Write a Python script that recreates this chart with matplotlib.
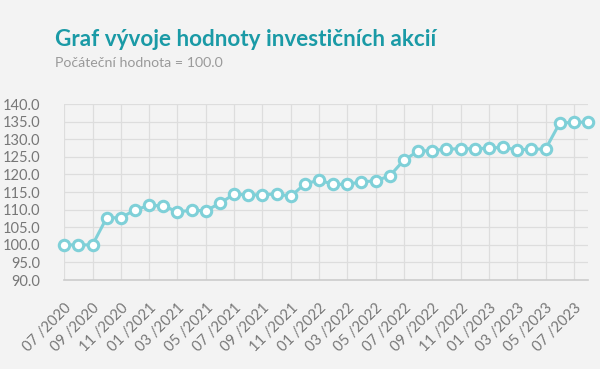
import matplotlib.pyplot as plt
import numpy as np

months = ['07 /2020', '08 /2020', '09 /2020', '10 /2020', '11 /2020', '12 /2020',
          '01 /2021', '02 /2021', '03 /2021', '04 /2021', '05 /2021', '06 /2021',
          '07 /2021', '08 /2021', '09 /2021', '10 /2021', '11 /2021', '12 /2021',
          '01 /2022', '02 /2022', '03 /2022', '04 /2022', '05 /2022', '06 /2022',
          '07 /2022', '08 /2022', '09 /2022', '10 /2022', '11 /2022', '12 /2022',
          '01 /2023', '02 /2023', '03 /2023', '04 /2023', '05 /2023', '06 /2023',
          '07 /2023', '08 /2023']
values = [100.0, 100.0, 100.0, 107.7, 107.7, 109.9, 111.2, 111.1, 109.4, 109.8,
          109.7, 111.8, 114.4, 114.2, 114.2, 114.5, 113.8, 117.3, 118.4, 117.2,
          117.2, 117.9, 118.2, 119.6, 124.1, 126.6, 126.8, 127.2, 127.3, 127.3,
          127.5, 127.7, 127.0, 127.2, 127.2, 134.6, 134.8, 134.9]

bg = '#f3f3f3'
plt.rcParams['font.family'] = ['Lato', 'DejaVu Sans']

fig = plt.figure(figsize=(6, 3.69), dpi=100, facecolor=bg)
ax = fig.add_axes([0.107, 0.241, 0.873, 0.477], facecolor=bg)

x = np.arange(len(values))
ax.plot(x, values, color='#7fd0d8', lw=2.2, marker='o', ms=7.5,
        mfc='white', mec='#7fd0d8', mew=2.2, zorder=3, clip_on=False)

ax.set_xlim(0, len(values) - 1)
ax.set_ylim(90, 140)
ax.set_yticks(np.arange(90, 141, 5))
ax.set_yticklabels(['%.1f' % v for v in np.arange(90, 141, 5)])
ax.set_xticks(x[::2])
ax.set_xticklabels(months[::2], rotation=45, ha='right', rotation_mode='anchor')

ax.grid(True, color='#dddddd', lw=0.9)
ax.set_axisbelow(True)
for s in ['top', 'right', 'left']:
    ax.spines[s].set_visible(False)
ax.spines['bottom'].set_color('#cccccc')
ax.spines['bottom'].set_linewidth(1.2)
ax.tick_params(length=0, colors='#777777', labelsize=10.5)
ax.tick_params(axis='x', pad=15, labelsize=10.6)
ax.tick_params(axis='y', pad=17)

fig.text(0.092, 0.875, 'Graf vývoje hodnoty investičních akcií', color='#1a9aa6',
         fontsize=16.2, fontweight='bold')
fig.text(0.092, 0.818, 'Počáteční hodnota = 100.0', color='#9a9a9a', fontsize=10.2)

fig.savefig('out.png', facecolor=bg)
